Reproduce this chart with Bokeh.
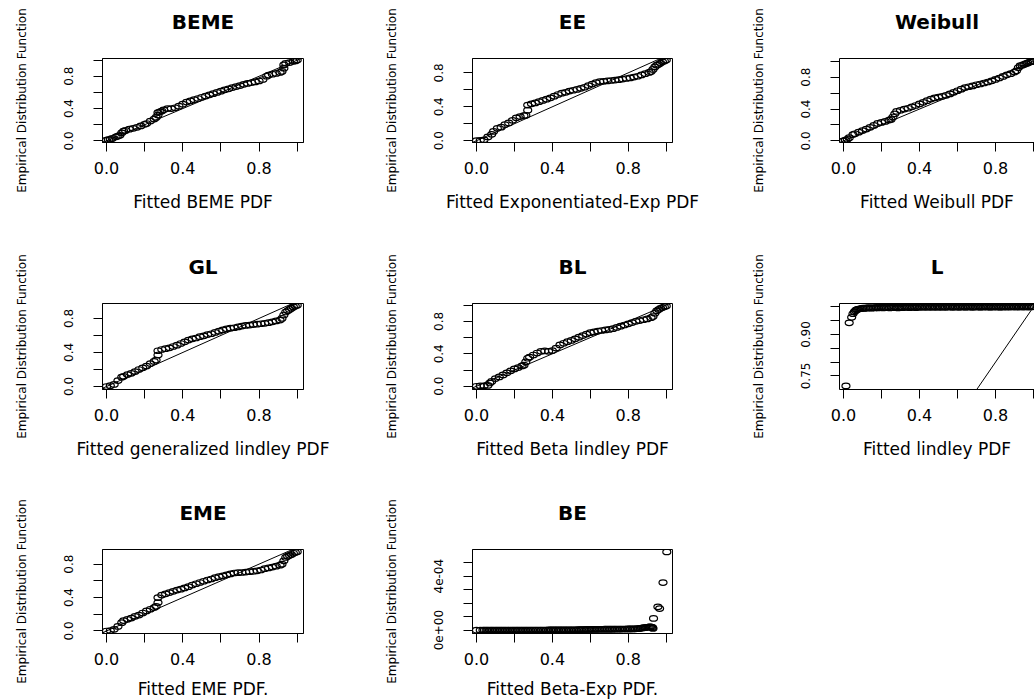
from bokeh.plotting import figure
from bokeh.layouts import gridplot
from bokeh.models import FixedTicker, Slope, Range1d, LinearAxis
from bokeh.embed import file_html
from bokeh.resources import INLINE

FONT = "DejaVu Sans"

# ---------------- data ----------------
titles = ["BEME", "EE", "Weibull", "GL", "BL", "L", "EME", "BE"]
x_labels = ["Fitted BEME PDF", "Fitted Exponentiated-Exp PDF", "Fitted Weibull PDF",
            "Fitted generalized lindley PDF", "Fitted Beta lindley PDF", "Fitted lindley PDF",
            "Fitted EME PDF.", "Fitted Beta-Exp PDF."]
y_label = "Empirical Distribution Function"

beme_x = [0.00, 0.01, 0.02, 0.03, 0.05, 0.06, 0.07, 0.08, 0.09, 0.10, 0.12, 0.14, 0.16, 0.18, 0.20, 0.21,
          0.23, 0.25, 0.26, 0.27, 0.27, 0.28, 0.29, 0.30, 0.32, 0.34, 0.36, 0.38, 0.40, 0.42, 0.44, 0.46,
          0.48, 0.50, 0.52, 0.54, 0.56, 0.58, 0.60, 0.62, 0.64, 0.66, 0.68, 0.70, 0.72, 0.74, 0.76, 0.78,
          0.80, 0.82, 0.84, 0.85, 0.87, 0.89, 0.91, 0.92, 0.93, 0.93, 0.94, 0.96, 0.98, 0.99, 1.00]
beme_y = [0.01, 0.015, 0.02, 0.03, 0.05, 0.06, 0.07, 0.10, 0.12, 0.13, 0.145, 0.155, 0.168, 0.185, 0.205, 0.215,
          0.245, 0.27, 0.29, 0.32, 0.35, 0.36, 0.37, 0.385, 0.40, 0.40, 0.41, 0.43, 0.455, 0.48, 0.495, 0.51,
          0.525, 0.54, 0.555, 0.57, 0.585, 0.60, 0.615, 0.632, 0.645, 0.66, 0.672, 0.685, 0.70, 0.712, 0.72, 0.73,
          0.742, 0.76, 0.80, 0.815, 0.825, 0.835, 0.848, 0.86, 0.90, 0.94, 0.96, 0.97, 0.985, 0.99, 1.00]

ee_x = [0.00, 0.02, 0.04, 0.06, 0.08, 0.09, 0.11, 0.13, 0.15, 0.17, 0.19, 0.21, 0.23, 0.25, 0.26, 0.27,
        0.27, 0.29, 0.31, 0.33, 0.35, 0.37, 0.39, 0.41, 0.43, 0.45, 0.47, 0.49, 0.51, 0.53, 0.55, 0.57,
        0.59, 0.61, 0.63, 0.65, 0.67, 0.69, 0.71, 0.73, 0.75, 0.77, 0.79, 0.81, 0.83, 0.85, 0.87, 0.89,
        0.91, 0.92, 0.93, 0.94, 0.95, 0.96, 0.97, 0.98, 0.99, 1.00]
ee_y = [0.00, 0.005, 0.01, 0.045, 0.075, 0.11, 0.146, 0.16, 0.19, 0.21, 0.24, 0.27, 0.285, 0.295, 0.30, 0.36,
        0.42, 0.435, 0.445, 0.46, 0.475, 0.49, 0.505, 0.525, 0.545, 0.56, 0.57, 0.585, 0.595, 0.605, 0.617, 0.63,
        0.65, 0.668, 0.685, 0.697, 0.70, 0.705, 0.71, 0.715, 0.72, 0.727, 0.733, 0.74, 0.75, 0.76, 0.775, 0.79,
        0.805, 0.815, 0.84, 0.87, 0.89, 0.90, 0.915, 0.93, 0.94, 0.95]

wb_x = [0.00, 0.01, 0.02, 0.03, 0.05, 0.06, 0.08, 0.10, 0.12, 0.14, 0.16, 0.18, 0.20, 0.22, 0.24, 0.25,
        0.26, 0.27, 0.28, 0.30, 0.32, 0.34, 0.36, 0.38, 0.40, 0.42, 0.44, 0.46, 0.48, 0.50, 0.52, 0.54,
        0.56, 0.58, 0.60, 0.62, 0.64, 0.66, 0.68, 0.70, 0.72, 0.74, 0.76, 0.78, 0.80, 0.82, 0.84, 0.86,
        0.88, 0.90, 0.91, 0.92, 0.93, 0.94, 0.95, 0.96, 0.97, 0.98, 0.99, 1.00]
wb_y = [0.00, 0.01, 0.02, 0.04, 0.08, 0.09, 0.11, 0.13, 0.148, 0.17, 0.195, 0.22, 0.232, 0.245, 0.262, 0.27,
        0.30, 0.34, 0.37, 0.385, 0.40, 0.41, 0.428, 0.445, 0.465, 0.485, 0.505, 0.525, 0.54, 0.55, 0.56, 0.572,
        0.59, 0.61, 0.63, 0.65, 0.67, 0.68, 0.69, 0.705, 0.715, 0.727, 0.74, 0.755, 0.772, 0.79, 0.81, 0.83,
        0.845, 0.865, 0.88, 0.92, 0.945, 0.95, 0.96, 0.97, 0.98, 0.99, 0.995, 1.00]

gl_x = [0.00, 0.02, 0.04, 0.06, 0.08, 0.09, 0.11, 0.13, 0.15, 0.17, 0.19, 0.21, 0.23, 0.25, 0.26, 0.27,
        0.27, 0.29, 0.31, 0.33, 0.35, 0.37, 0.39, 0.41, 0.43, 0.45, 0.47, 0.49, 0.51, 0.53, 0.55, 0.57,
        0.59, 0.61, 0.63, 0.65, 0.67, 0.69, 0.71, 0.73, 0.75, 0.77, 0.79, 0.81, 0.83, 0.85, 0.87, 0.89,
        0.91, 0.92, 0.93, 0.94, 0.95, 0.96, 0.97, 0.98, 0.99, 1.00]
gl_y = [0.00, 0.01, 0.025, 0.07, 0.11, 0.12, 0.14, 0.155, 0.175, 0.20, 0.22, 0.24, 0.27, 0.295, 0.31, 0.37,
        0.42, 0.435, 0.445, 0.455, 0.47, 0.485, 0.505, 0.525, 0.545, 0.56, 0.57, 0.585, 0.595, 0.61, 0.62, 0.635,
        0.65, 0.665, 0.678, 0.685, 0.69, 0.70, 0.71, 0.717, 0.722, 0.727, 0.732, 0.737, 0.742, 0.75, 0.76, 0.77,
        0.78, 0.80, 0.84, 0.875, 0.89, 0.905, 0.92, 0.935, 0.945, 0.955]

bl_x = [0.00, 0.02, 0.04, 0.06, 0.07, 0.08, 0.10, 0.12, 0.14, 0.16, 0.18, 0.20, 0.22, 0.24, 0.25, 0.26,
        0.27, 0.28, 0.30, 0.32, 0.34, 0.36, 0.38, 0.40, 0.42, 0.44, 0.46, 0.48, 0.50, 0.52, 0.54, 0.56,
        0.58, 0.60, 0.62, 0.64, 0.66, 0.68, 0.70, 0.72, 0.74, 0.76, 0.78, 0.80, 0.82, 0.84, 0.86, 0.88,
        0.90, 0.92, 0.93, 0.94, 0.95, 0.96, 0.97, 0.98, 0.99, 1.00]
bl_y = [0.00, 0.005, 0.005, 0.01, 0.04, 0.06, 0.095, 0.115, 0.14, 0.165, 0.19, 0.214, 0.23, 0.25, 0.26, 0.30,
        0.345, 0.36, 0.385, 0.41, 0.43, 0.435, 0.43, 0.44, 0.47, 0.51, 0.53, 0.55, 0.565, 0.585, 0.605, 0.625,
        0.643, 0.66, 0.67, 0.68, 0.687, 0.694, 0.70, 0.71, 0.725, 0.74, 0.755, 0.77, 0.785, 0.80, 0.81, 0.82,
        0.83, 0.845, 0.86, 0.90, 0.93, 0.945, 0.96, 0.97, 0.98, 0.99]

l_x = [0.013, 0.030, 0.043, 0.050, 0.057, 0.063, 0.068, 0.074, 0.080, 0.087,
       0.094, 0.101, 0.109, 0.117, 0.125, 0.133, 0.141, 0.149, 0.158, 0.166,
       0.175, 0.183, 0.192, 0.200, 0.209, 0.218, 0.226, 0.235, 0.244, 0.252,
       0.261, 0.270, 0.278, 0.287, 0.296, 0.304, 0.313, 0.322, 0.330, 0.339,
       0.348, 0.356, 0.365, 0.374, 0.382, 0.391, 0.400, 0.408, 0.417, 0.426,
       0.434, 0.443, 0.452, 0.460, 0.469, 0.478, 0.486, 0.495, 0.504, 0.512,
       0.521, 0.530, 0.538, 0.547, 0.556, 0.564, 0.573, 0.582, 0.590, 0.599,
       0.608, 0.616, 0.625, 0.634, 0.642, 0.651, 0.660, 0.668, 0.677, 0.686,
       0.694, 0.703, 0.712, 0.720, 0.729, 0.738, 0.746, 0.755, 0.764, 0.772,
       0.781, 0.790, 0.798, 0.807, 0.816, 0.824, 0.833, 0.842, 0.850, 0.859,
       0.868, 0.876, 0.885, 0.894, 0.902, 0.911, 0.920, 0.928, 0.937, 0.946,
       0.954, 0.963, 0.972, 0.980, 0.989, 0.997]
l_y = [0.714, 0.942, 0.962, 0.975, 0.982, 0.986, 0.989, 0.991, 0.992, 0.993,
       0.994, 0.995, 0.994, 0.996, 0.995, 0.997, 0.996, 0.995, 0.997, 0.996,
       0.998, 0.996, 0.997, 0.999, 0.996, 0.998, 0.997, 0.999, 0.996, 0.998,
       0.997, 0.999, 0.998, 0.996, 0.999, 0.998, 0.997, 1.000, 0.998, 0.999,
       0.997, 1.000, 0.998, 0.999, 0.997, 1.000, 0.999, 0.998, 1.000, 0.999,
       0.998, 1.000, 0.999, 0.998, 1.000, 0.999, 0.998, 1.000, 0.999, 0.998,
       1.000, 0.999, 0.998, 1.000, 0.999, 1.000, 0.998, 0.999, 1.000, 0.999,
       0.998, 1.000, 0.999, 1.000, 0.998, 1.000, 0.999, 1.000, 0.998, 0.999,
       1.000, 0.999, 1.000, 0.998, 1.000, 0.999, 1.000, 0.999, 1.000, 0.998,
       1.000, 0.999, 1.000, 0.999, 1.000, 0.998, 1.000, 0.999, 1.000, 0.999,
       1.000, 0.999, 1.000, 1.000, 0.999, 1.000, 0.999, 1.000, 1.000, 0.999,
       1.000, 1.000, 0.999, 1.000, 1.000, 1.000]

eme_x = [0.00, 0.02, 0.04, 0.06, 0.08, 0.09, 0.11, 0.13, 0.15, 0.17, 0.19, 0.21, 0.23, 0.25, 0.26, 0.27,
         0.27, 0.29, 0.31, 0.33, 0.35, 0.37, 0.39, 0.41, 0.43, 0.45, 0.47, 0.49, 0.51, 0.53, 0.55, 0.57,
         0.59, 0.61, 0.63, 0.65, 0.67, 0.69, 0.71, 0.73, 0.75, 0.77, 0.79, 0.81, 0.83, 0.85, 0.87, 0.89,
         0.91, 0.92, 0.93, 0.94, 0.95, 0.96, 0.97, 0.98, 0.99, 1.00]
eme_y = [0.00, 0.005, 0.02, 0.055, 0.10, 0.125, 0.14, 0.155, 0.175, 0.19, 0.215, 0.24, 0.26, 0.28, 0.295, 0.34,
         0.40, 0.43, 0.445, 0.46, 0.475, 0.49, 0.50, 0.515, 0.53, 0.55, 0.565, 0.58, 0.595, 0.61, 0.622, 0.638,
         0.65, 0.66, 0.672, 0.683, 0.694, 0.698, 0.70, 0.705, 0.71, 0.713, 0.72, 0.73, 0.745, 0.755, 0.765, 0.775,
         0.788, 0.80, 0.84, 0.88, 0.895, 0.905, 0.915, 0.93, 0.94, 0.948]

be_x = [0.000, 0.020, 0.034, 0.042, 0.051, 0.059, 0.068, 0.077, 0.085, 0.094,
        0.103, 0.111, 0.120, 0.129, 0.137, 0.146, 0.155, 0.163, 0.172, 0.181,
        0.189, 0.198, 0.207, 0.215, 0.224, 0.233, 0.241, 0.250, 0.259, 0.267,
        0.276, 0.285, 0.293, 0.302, 0.311, 0.319, 0.328, 0.337, 0.345, 0.354,
        0.363, 0.371, 0.380, 0.389, 0.397, 0.406, 0.415, 0.423, 0.432, 0.441,
        0.449, 0.458, 0.467, 0.475, 0.484, 0.493, 0.501, 0.510, 0.519, 0.527,
        0.536, 0.545, 0.553, 0.562, 0.571, 0.579, 0.588, 0.597, 0.605, 0.614,
        0.623, 0.631, 0.640, 0.649, 0.657, 0.666, 0.675, 0.683, 0.692, 0.701,
        0.709, 0.718, 0.727, 0.735, 0.744, 0.753, 0.761, 0.770, 0.779, 0.787,
        0.796, 0.805, 0.813, 0.822, 0.831, 0.839, 0.848, 0.856, 0.863, 0.870,
        0.877, 0.884, 0.891, 0.898, 0.905, 0.911, 0.917, 0.923, 0.928, 0.930,
        0.933, 0.956, 0.965, 0.983, 1.003]
be_y = [0.0, 0.0, 0.0, 1e-7, 1e-7, 1e-7, 1e-7, 2e-7, 2e-7, 2e-7,
        2e-7, 3e-7, 3e-7, 3e-7, 3e-7, 4e-7, 4e-7, 4e-7, 4e-7, 5e-7,
        5e-7, 5e-7, 5e-7, 6e-7, 6e-7, 6e-7, 6e-7, 7e-7, 7e-7, 7e-7,
        7e-7, 8e-7, 8e-7, 8e-7, 9e-7, 9e-7, 9e-7, 1.0e-6, 1.0e-6, 1.0e-6,
        1.1e-6, 1.1e-6, 1.2e-6, 1.2e-6, 1.3e-6, 1.3e-6, 1.4e-6, 1.4e-6, 1.5e-6, 1.5e-6,
        1.6e-6, 1.6e-6, 1.7e-6, 1.8e-6, 1.9e-6, 2.0e-6, 2.1e-6, 2.2e-6, 2.4e-6, 2.6e-6,
        4.0e-6, 4.2e-6, 4.4e-6, 4.6e-6, 4.8e-6, 5.0e-6, 5.2e-6, 5.4e-6, 5.6e-6, 5.8e-6,
        6.0e-6, 6.1e-6, 6.2e-6, 6.4e-6, 6.5e-6, 6.6e-6, 6.8e-6, 6.9e-6, 7.0e-6, 7.2e-6,
        7.3e-6, 7.4e-6, 7.6e-6, 7.7e-6, 7.8e-6, 8.0e-6, 8.1e-6, 8.2e-6, 8.4e-6, 8.5e-6,
        8.6e-6, 8.8e-6, 9.0e-6, 9.3e-6, 9.6e-6, 1.0e-5, 1.1e-5, 1.2e-5, 1.35e-5, 1.5e-5,
        1.65e-5, 1.8e-5, 1.95e-5, 2.1e-5, 2.25e-5, 2.4e-5, 2.5e-5, 2.3e-5, 1.8e-5, 1.3e-5,
        8.7e-5, 1.73e-4, 1.6e-4, 3.53e-4, 5.8e-4]

# axis ticks and labels
x_ticks = [0.0, 0.4, 0.8]
x_tick_labels = ["0.0", "0.4", "0.8"]
x_minor_ticks = [0.2, 0.6, 1.0]
y_ticks = [0.0, 0.4, 0.8]
y_tick_labels = ["0.0", "0.4", "0.8"]
y_minor_ticks = [0.2, 0.6, 1.0]
l_y_ticks = [0.75, 0.90]
l_y_tick_labels = ["0.75", "0.90"]
l_y_minor_ticks = [0.80, 0.85, 0.95, 1.00]
be_y_ticks = [0.0, 0.0004]
be_y_tick_labels = ["0e+00", "4e-04"]
be_y_minor_ticks = [0.0001, 0.0002, 0.0003, 0.0005]

# axis extents (data units) per panel
x_range_full = (-0.021, 1.033)
x_range_cut = (-0.021, 1.005)
y_ranges = {
    "BEME": (-0.02, 1.02), "EE": (-0.021, 0.969), "Weibull": (-0.02, 1.035),
    "GL": (-0.035, 0.975), "BL": (-0.04, 1.02), "L": (0.701, 1.012),
    "EME": (-0.03, 0.975), "BE": (-0.000025, 0.000598),
}

TOP = 58


def make_panel(title, xlabel, xs, ys, xr, yr, yt, ytl, ymt, frame_w, mr, frame_h, mb,
               diag=True, open_right=False, xlab_standoff=15):
    p = figure(frame_width=frame_w, frame_height=frame_h,
               x_range=Range1d(*xr), y_range=Range1d(*yr),
               output_backend="svg", toolbar_location=None,
               min_border_left=102, min_border_right=mr, min_border_top=TOP, min_border_bottom=mb,
               background_fill_color="white", border_fill_color="white")
    p.grid.visible = False
    p.outline_line_color = None if open_right else "black"
    p.outline_line_width = 1

    xa = p.below[0]
    ya = p.left[0]

    # panel title: drawn as the label of a tick-less axis above the box
    top_axis = LinearAxis(ticker=FixedTicker(ticks=[], minor_ticks=[]), axis_label=title,
                          major_tick_out=0, major_tick_in=0, minor_tick_out=0, minor_tick_in=0,
                          major_label_standoff=0, major_label_text_font_size="1px",
                          axis_line_color="black" if open_right else None,
                          axis_label_standoff=25, axis_label_text_font=FONT,
                          axis_label_text_font_size="20px", axis_label_text_font_style="bold",
                          axis_label_text_color="black")
    p.add_layout(top_axis, "above")

    xa.ticker = FixedTicker(ticks=x_ticks, minor_ticks=x_minor_ticks)
    xa.major_label_overrides = dict(zip(x_ticks, x_tick_labels))
    xa.axis_label = xlabel

    ya.ticker = FixedTicker(ticks=yt, minor_ticks=ymt)
    ya.major_label_overrides = dict(zip(yt, ytl))
    ya.axis_label = y_label
    ya.major_label_orientation = "vertical"

    for ax in (xa, ya):
        ax.axis_line_color = "black"
        ax.axis_line_width = 1
        ax.major_tick_in = 0
        ax.major_tick_out = 9
        ax.minor_tick_in = 0
        ax.minor_tick_out = 9
        ax.major_tick_line_color = "black"
        ax.minor_tick_line_color = "black"
        ax.major_label_text_font = FONT
        ax.major_label_text_color = "black"
        ax.axis_label_text_font = FONT
        ax.axis_label_text_font_style = "normal"
        ax.axis_label_text_color = "black"

    xa.major_label_text_font_size = "16px"
    xa.major_label_standoff = 10
    xa.axis_label_text_font_size = "17px"
    xa.axis_label_standoff = xlab_standoff

    ya.major_label_text_font_size = "12px"
    ya.major_label_standoff = 20
    ya.axis_label_text_font_size = "12px"
    ya.axis_label_standoff = 33

    if diag:
        p.add_layout(Slope(gradient=1, y_intercept=0, line_color="black", line_width=1))

    p.ellipse(x=xs, y=ys, width=8, height=5.5, width_units="screen", height_units="screen",
              fill_color=None, line_color="black", line_width=1.2)
    return p


# column geometry: (frame width, right border, x range, open right)
cols = [(201, 67, x_range_full, False), (200, 65, x_range_full, False), (195, 0, x_range_cut, True)]
# row geometry: (frame height, bottom border, x-label standoff)
rows = [(84, 103, 15), (86, 102, 15), (84, 67, 11)]

panel_data = [
    (beme_x, beme_y, y_ticks, y_tick_labels, y_minor_ticks, True),
    (ee_x, ee_y, y_ticks, y_tick_labels, y_minor_ticks, True),
    (wb_x, wb_y, y_ticks, y_tick_labels, y_minor_ticks, True),
    (gl_x, gl_y, y_ticks, y_tick_labels, y_minor_ticks, True),
    (bl_x, bl_y, y_ticks, y_tick_labels, y_minor_ticks, True),
    (l_x, l_y, l_y_ticks, l_y_tick_labels, l_y_minor_ticks, True),
    (eme_x, eme_y, y_ticks, y_tick_labels, y_minor_ticks, True),
    (be_x, be_y, be_y_ticks, be_y_tick_labels, be_y_minor_ticks, False),
]

grid = [[None, None, None], [None, None, None], [None, None, None]]
for i, (xs, ys, yt, ytl, ymt, diag) in enumerate(panel_data):
    r, c = divmod(i, 3)
    fw, mr, xr, open_right = cols[c]
    fh, mb, xls = rows[r]
    name = titles[i]
    grid[r][c] = make_panel(name, x_labels[i], xs, ys, xr, y_ranges[name], yt, ytl, ymt,
                            fw, mr, fh, mb, diag=diag, open_right=open_right, xlab_standoff=xls)

layout = gridplot(grid, toolbar_location=None)

open("out.html", "w").write(file_html(layout, INLINE))
